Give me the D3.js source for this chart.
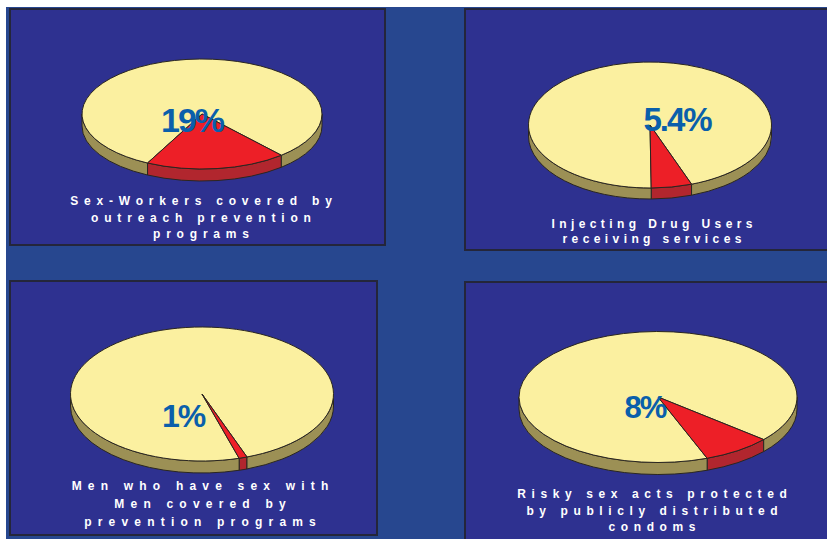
<!DOCTYPE html>
<html>
<head>
<meta charset="utf-8">
<script src="https://cdn.jsdelivr.net/npm/d3@7"></script>
<style>
  html, body { margin: 0; padding: 0; background: #ffffff; }
  svg { display: block; }
</style>
</head>
<body>
<svg id="chart" width="827" height="539"></svg>
<script>
// Coverage figures, one pie per indicator (percent covered)
const coverageValues = [19, 5.4, 1, 8];
const valueLabels = ["19%", "5.4%", "1%", "8%"];
const captionLines = [
  ["Sex-Workers covered by", "outreach prevention", "programs"],
  ["Injecting Drug Users", "receiving services"],
  ["Men who have sex with", "Men covered by", "prevention programs"],
  ["Risky sex acts protected", "by publicly distributed", "condoms"]
];

// Panel layout: frame, ellipse geometry, orientation of the covered slice, text positions
const panels = [
  { x: 10, y: 9, w: 375, h: 236, cx: 202, cy: 114, rx: 120, ry: 55, depth: 12, start: 138.6,
    lx: 192, ly: 132, lsize: 34, tx: 201, ty: [205, 222, 238], ls: 5.8 },
  { x: 465, y: 9, w: 370, h: 241, cx: 650, cy: 125, rx: 121.5, ry: 63, depth: 11, start: 160,
    lx: 677, ly: 131, lsize: 33, tx: 652, ty: [228, 243], ls: 4.4 },
  { x: 10, y: 281, w: 367, h: 254, cx: 202, cy: 394, rx: 131.5, ry: 67, depth: 12, start: 160,
    lx: 183, ly: 427, lsize: 32, tx: 200, ty: [490, 508, 526], ls: 6.2 },
  { x: 465, y: 282, w: 370, h: 270, cx: 658, cy: 397, rx: 139, ry: 65.5, depth: 12, start: 130.5,
    lx: 645, ly: 418, lsize: 31, tx: 652, ty: [498, 515, 531], ls: 5.6 }
];

const colors = {
  page: "#27478f",
  panel: "#2e3190",
  frame: "#24263a",
  top: ["#ed1f27", "#fbf0a0"],
  side: ["#b1262e", "#9c9055"],
  outline: "#2a2620",
  label: "#0a5fab"
};

const svg = d3.select("#chart");

// page background (thin white margin at top and left)
svg.append("rect").attr("x", 6).attr("y", 7).attr("width", 827).attr("height", 539)
  .attr("fill", colors.page);

const pie = d3.pie().sort(null);

function pt(p, a, dy = 0) {
  // a: screen angle (radians, clockwise from east)
  return [p.cx + p.rx * Math.cos(a), p.cy + p.ry * Math.sin(a) + dy];
}

function topPath(p, a0, a1) {
  const s = pt(p, a0), e = pt(p, a1);
  const large = (a1 - a0) > Math.PI ? 1 : 0;
  return `M${p.cx},${p.cy}L${s[0]},${s[1]}A${p.rx},${p.ry} 0 ${large} 1 ${e[0]},${e[1]}Z`;
}

function sidePaths(p, a0, a1) {
  // portions of the rim that face the viewer (screen angle in [0, PI] modulo 2PI)
  const out = [];
  for (let k = -2; k <= 2; k++) {
    const lo = Math.max(a0, k * 2 * Math.PI), hi = Math.min(a1, k * 2 * Math.PI + Math.PI);
    if (hi > lo) {
      const s = pt(p, lo), e = pt(p, hi), sb = pt(p, lo, p.depth), eb = pt(p, hi, p.depth);
      out.push(`M${s[0]},${s[1]}A${p.rx},${p.ry} 0 0 1 ${e[0]},${e[1]}L${eb[0]},${eb[1]}` +
               `A${p.rx},${p.ry} 0 0 0 ${sb[0]},${sb[1]}Z`);
    }
  }
  return out;
}

panels.forEach((p, i) => {
  const g = svg.append("g");
  g.append("rect").attr("x", p.x).attr("y", p.y).attr("width", p.w).attr("height", p.h)
    .attr("fill", colors.panel).attr("stroke", colors.frame).attr("stroke-width", 2);

  const startRad = p.start * Math.PI / 180;
  const arcs = pie.startAngle(startRad).endAngle(startRad + 2 * Math.PI)(
    [coverageValues[i], 100 - coverageValues[i]]);

  // rim first, then the top faces
  arcs.forEach((d, j) => {
    const a0 = d.startAngle - Math.PI / 2, a1 = d.endAngle - Math.PI / 2;
    sidePaths(p, a0, a1).forEach(path => {
      g.append("path").attr("d", path).attr("fill", colors.side[j])
        .attr("stroke", colors.outline).attr("stroke-width", 1).attr("stroke-linejoin", "round");
    });
  });
  // draw the large slice first so the small slice outline stays visible
  [1, 0].forEach(j => {
    const d = arcs[j];
    const a0 = d.startAngle - Math.PI / 2, a1 = d.endAngle - Math.PI / 2;
    g.append("path").attr("d", topPath(p, a0, a1)).attr("fill", colors.top[j])
      .attr("stroke", colors.outline).attr("stroke-width", 1).attr("stroke-linejoin", "round");
  });

  g.append("text").attr("x", p.lx).attr("y", p.ly)
    .attr("text-anchor", "middle")
    .attr("font-family", "Liberation Sans, Arial, sans-serif")
    .attr("font-weight", "bold").attr("font-size", p.lsize)
    .attr("letter-spacing", -2)
    .attr("fill", colors.label)
    .text(valueLabels[i]);

  captionLines[i].forEach((line, k) => {
    g.append("text").attr("x", p.tx + p.ls / 2).attr("y", p.ty[k])
      .attr("text-anchor", "middle")
      .attr("font-family", "Liberation Sans, Arial, sans-serif")
      .attr("font-weight", "bold").attr("font-size", 12)
      .attr("letter-spacing", p.ls)
      .attr("fill", "#ffffff")
      .text(line);
  });
});
</script>
</body>
</html>
